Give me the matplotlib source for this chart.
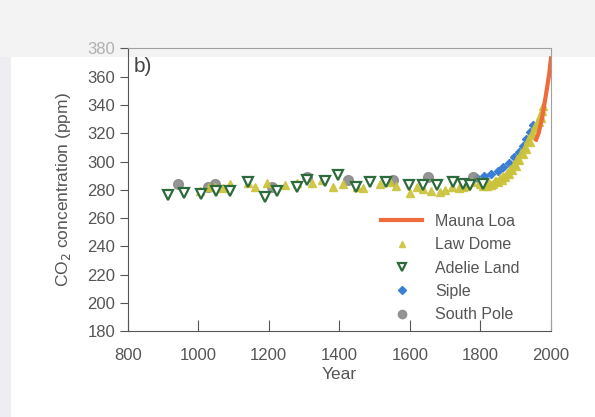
import numpy as np
import matplotlib
matplotlib.use("Agg")
import matplotlib.pyplot as plt
from matplotlib.patches import Rectangle

plt.rcParams['font.family'] = ['Liberation Sans', 'DejaVu Sans']

# Law Dome ice core
law_year = [1005, 1030, 1048, 1070, 1090, 1141, 1160, 1195, 1246, 1280, 1322, 1350,
            1382, 1410, 1450, 1467, 1515, 1543, 1560, 1600, 1620, 1637, 1660, 1685,
            1700, 1719, 1740, 1750, 1760, 1776, 1798,
            1800, 1806, 1812, 1818, 1825, 1830, 1835, 1840, 1845, 1850, 1855, 1860,
            1865, 1870, 1875, 1880, 1885, 1890, 1895, 1900, 1905, 1910, 1915, 1920,
            1925, 1930, 1935, 1940, 1945, 1950, 1955, 1958, 1962, 1965, 1968, 1971,
            1975, 1978]
law_co2 = [278.8, 282.3, 281.6, 281.0, 283.8, 284.5, 282.0, 284.5, 283.1, 285.0, 284.5, 287.0,
           281.6, 284.0, 282.3, 280.9, 283.8, 285.2, 283.0, 277.4, 282.0, 280.2, 279.0, 278.1,
           280.0, 281.6, 281.0, 282.3, 283.0, 285.2, 285.9,
           284.0, 282.5, 285.0, 283.0, 285.0, 283.5, 284.0, 286.5, 286.0, 285.5, 288.0, 287.0,
           290.0, 289.0, 292.0, 291.0, 295.0, 294.0, 298.0, 297.0, 302.0, 301.0, 306.0, 305.0,
           310.0, 309.0, 315.0, 314.0, 320.0, 319.0, 325.0, 324.0, 329.0, 328.0, 332.0, 331.0,
           336.0, 339.0]

# Adelie Land ice core
adelie_year = [914, 960, 1008, 1050, 1090, 1141, 1189, 1223, 1280, 1308, 1359, 1396,
               1447, 1487, 1532, 1597, 1637, 1677, 1722, 1751, 1770, 1807]
adelie_co2 = [276.0, 278.0, 276.7, 278.8, 278.8, 285.2, 275.2, 278.8, 281.6, 286.6, 285.9, 290.2,
              281.6, 285.2, 285.2, 283.1, 283.1, 283.1, 285.2, 283.8, 283.1, 283.8]

# Siple ice core
siple_year = [1750, 1770, 1790, 1810, 1830, 1850, 1865, 1880, 1895, 1910, 1920, 1930, 1940, 1950]
siple_co2 = [283, 285, 288, 290, 291, 293, 296, 299, 303, 307, 311, 316, 321, 326]

# South Pole ice core
spole_year = [943, 1028, 1048, 1210, 1308, 1425, 1552, 1652, 1779]
spole_co2 = [283.8, 282.3, 283.8, 282.3, 288.7, 286.6, 286.6, 288.7, 288.7]

# Mauna Loa record
ml_year = [1958, 1960, 1965, 1970, 1975, 1980, 1985, 1990, 1995, 2000]
ml_co2 = [315.5, 317.0, 320.0, 325.7, 331.0, 338.7, 346.0, 354.0, 362.0, 373.0]

fig = plt.figure(figsize=(5.95, 4.17), dpi=100, facecolor='white')
# scanned page tint
fig.patches.append(Rectangle((0, 0.863), 1, 0.137, transform=fig.transFigure,
                             facecolor='#f3f3f3', edgecolor='none', zorder=-5))
fig.patches.append(Rectangle((0, 0), 0.018, 0.863, transform=fig.transFigure,
                             facecolor='#eeeef2', edgecolor='none', zorder=-5))

ax = fig.add_axes([0.2146, 0.2062, 0.7114, 0.6775])
ax.set_facecolor('none')

ax.plot(law_year, law_co2, linestyle='none', marker='^', ms=5.5, color='#cbc33c',
        mec='#cbc33c', alpha=0.9, label='Law Dome', zorder=3)
ax.plot(siple_year, siple_co2, linestyle='none', marker='D', ms=3.8, color='#3a7fd5',
        label='Siple', zorder=2)
ax.plot(spole_year, spole_co2, linestyle='none', marker='o', ms=7, color='#8a8a8a',
        label='South Pole', zorder=2, alpha=0.9)
ax.plot(adelie_year, adelie_co2, linestyle='none', marker='v', ms=6.5, mfc='white',
        mec='#2d6a3c', mew=1.6, label='Adelie Land', zorder=4)
ax.plot(ml_year, ml_co2, color='#ee6b3c', lw=3, label='Mauna Loa', zorder=5)

ax.set_xlim(800, 2000)
ax.set_ylim(180, 380)
ax.set_xticks(np.arange(800, 2001, 200))
ax.set_yticks(np.arange(180, 381, 20))

for s in ['left', 'bottom']:
    ax.spines[s].set_color('#555555')
for s in ['top', 'right']:
    ax.spines[s].set_color('#a0a0a0')
ax.tick_params(axis='y', direction='out', length=6, color='#555555', labelcolor='#555555',
               labelsize=12, pad=3)
ax.tick_params(axis='x', direction='in', length=8, color='#555555', labelcolor='#555555',
               labelsize=12, pad=12)
ax.get_yticklabels()[-1].set_color('#b0b0b0')

ax.set_xlabel('Year', fontsize=12.5, color='#555555', labelpad=3)
ax.set_ylabel('CO$_2$ concentration (ppm)', fontsize=12.5, color='#555555', labelpad=10)

ax.text(0.015, 0.97, 'b)', transform=ax.transAxes, fontsize=15, color='#444444',
        va='top', ha='left')

handles, labels = ax.get_legend_handles_labels()
order = ['Mauna Loa', 'Law Dome', 'Adelie Land', 'Siple', 'South Pole']
hmap = dict(zip(labels, handles))
leg = ax.legend([hmap[k] for k in order], order, loc='lower right', frameon=False,
                fontsize=11.5, handlelength=2.6, labelspacing=0.52,
                bbox_to_anchor=(0.96, -0.02), labelcolor='#555555')
leg.legend_handles[1].set_markersize(5)
leg.legend_handles[2].set_markersize(6)
leg.legend_handles[3].set_markersize(4)
leg.legend_handles[4].set_markersize(6)

fig.savefig('out.png', dpi=100, facecolor=fig.get_facecolor())
